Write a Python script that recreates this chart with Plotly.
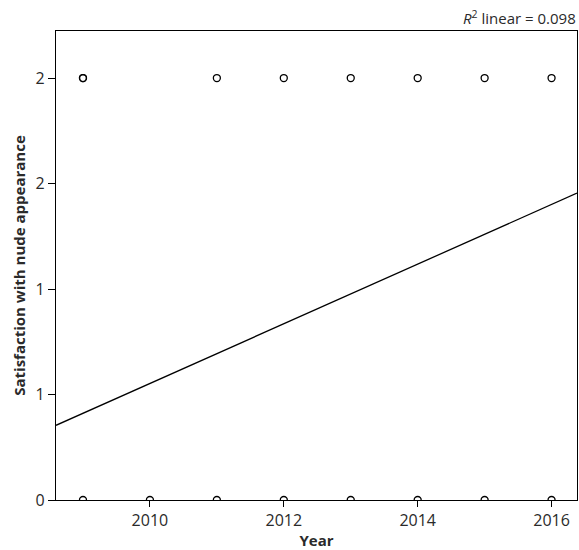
import plotly.graph_objects as go

# Observed responses (year, satisfaction)
year = [2009, 2009, 2011, 2012, 2013, 2014, 2015, 2016,
        2009, 2010, 2011, 2012, 2013, 2014, 2015, 2016]
satisfaction = [2, 2, 2, 2, 2, 2, 2, 2,
                0, 0, 0, 0, 0, 0, 0, 0]

# Linear fit
fit_at_2009 = 0.411
fit_slope = 0.1414
r2_text = "<i>R</i><sup>2</sup> linear = 0.098"

y_tickvals = [0, 0.5, 1, 1.5, 2]
y_ticktext = ["0", "1", "1", "2", "2"]
x_tickvals = [2010, 2012, 2014, 2016]

x_range = [2008.597, 2016.38]
y_range = [0, 2.223]

fit_x = x_range
fit_y = [fit_at_2009 + fit_slope * (x - 2009) for x in fit_x]

fig = go.Figure()
fig.add_trace(go.Scatter(
    x=fit_x, y=fit_y, mode="lines",
    line=dict(color="black", width=1.3),
    showlegend=False, hoverinfo="skip",
))
fig.add_trace(go.Scatter(
    x=year, y=satisfaction, mode="markers",
    marker=dict(symbol="circle-open", size=7, color="black",
                line=dict(color="black", width=1.3)),
    showlegend=False, cliponaxis=True,
))

font_family = "Open Sans, DejaVu Sans, sans-serif"
txt = "#2a2a2a"
fig.update_layout(
    width=579, height=550,
    margin=dict(l=56, r=1.5, t=31, b=50),
    plot_bgcolor="white", paper_bgcolor="white",
    font=dict(family=font_family, size=15, color=txt),
    xaxis=dict(
        range=x_range, tickvals=x_tickvals,
        showgrid=False, zeroline=False,
        showline=True, linecolor="black", linewidth=1.3, mirror=True,
        ticks="outside", ticklen=6, tickcolor="black", tickwidth=1.3,
        title=dict(text="<b>Year</b>", standoff=1,
                   font=dict(size=15, color=txt)),
        tickfont=dict(size=16, color=txt),
    ),
    yaxis=dict(
        range=y_range, tickvals=y_tickvals, ticktext=y_ticktext,
        showgrid=False, zeroline=False,
        showline=True, linecolor="black", linewidth=1.3, mirror=True,
        ticks="outside", ticklen=7, tickcolor="black", tickwidth=1.3,
        title=dict(text="<b>Satisfaction with nude appearance</b>", standoff=6,
                   font=dict(size=15, color=txt)),
        tickfont=dict(size=16, color=txt),
    ),
    annotations=[dict(
        text=r2_text, xref="paper", yref="paper", x=1, y=1,
        xanchor="right", yanchor="bottom", showarrow=False,
        xshift=1, yshift=1,
        font=dict(size=15, color=txt),
    )],
)

fig.write_html(
    "out.html",
    config={"displayModeBar": False},
    post_script="document.body.style.margin='0px';document.body.style.overflow='hidden';",
)
